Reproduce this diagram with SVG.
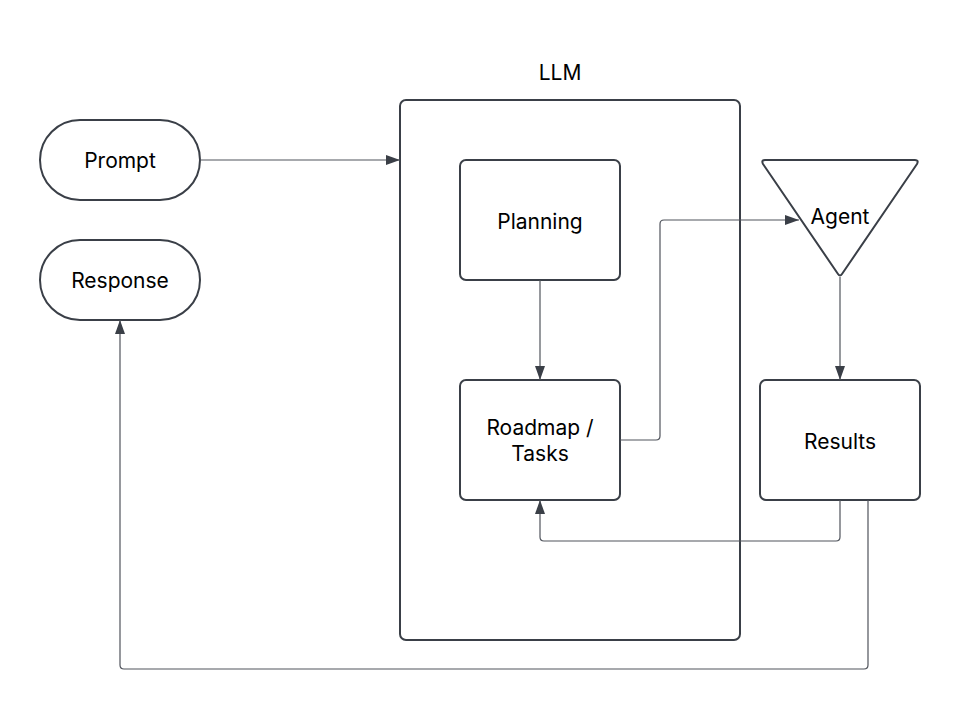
<svg xmlns="http://www.w3.org/2000/svg" width="960" height="710" viewBox="0 0 960 710">
<style>
.shape{fill:#ffffff;stroke:#3a3f47;stroke-width:2}
.conn{fill:none;stroke:#50545c;stroke-width:1.2;stroke-linejoin:round}
.lbl{font-family:Inter,"Noto Sans",sans-serif;font-size:21px;fill:#000000;text-anchor:middle;dominant-baseline:central}
</style>
<defs>
<marker id="arr" viewBox="0 0 14 10" refX="14" refY="5" markerWidth="14" markerHeight="10" markerUnits="userSpaceOnUse" orient="auto">
<path d="M0,0 L14,5 L0,10 Z" fill="#3a3f47"/>
</marker>
</defs>
<rect width="960" height="710" fill="#ffffff"/>
<g id="llm">
<rect class="shape" x="400" y="100" width="340" height="540" rx="6"/>
<text class="lbl" x="560" y="72">LLM</text>
</g>
<g id="prompt">
<rect class="shape" x="40" y="120" width="160" height="80" rx="40"/>
<text class="lbl" x="120" y="160">Prompt</text>
</g>
<g id="response">
<rect class="shape" x="40" y="240" width="160" height="80" rx="40"/>
<text class="lbl" x="120" y="280">Response</text>
</g>
<g id="planning">
<rect class="shape" x="460" y="160" width="160" height="120" rx="6"/>
<text class="lbl" x="540" y="221">Planning</text>
</g>
<g id="roadmap">
<rect class="shape" x="460" y="380" width="160" height="120" rx="6"/>
<text class="lbl" x="540" y="427">Roadmap /</text>
<text class="lbl" x="540" y="453">Tasks</text>
</g>
<g id="agent">
<path class="shape" d="M765,160 L915,160 Q919,160 917,164 L842,274 Q840,277 838,274 L763,164 Q761,160 765,160 Z" stroke-linejoin="round"/>
<text class="lbl" x="840" y="216">Agent</text>
</g>
<g id="results">
<rect class="shape" x="760" y="380" width="160" height="120" rx="6"/>
<text class="lbl" x="840" y="441">Results</text>
</g>
<g id="connectors">
<path class="conn" d="M200,160 L400,160" marker-end="url(#arr)"/>
<path class="conn" d="M540,280 L540,380" marker-end="url(#arr)"/>
<path class="conn" d="M620,440 L656,440 Q660,440 660,436 L660,224 Q660,220 664,220 L799,220" marker-end="url(#arr)"/>
<path class="conn" d="M840,277 L840,380" marker-end="url(#arr)"/>
<path class="conn" d="M840,500 L840,537 Q840,541 836,541 L544,541 Q540,541 540,537 L540,500" marker-end="url(#arr)"/>
<path class="conn" d="M868,500 L868,665 Q868,669 864,669 L124,669 Q120,669 120,665 L120,320" marker-end="url(#arr)"/>
</g>
</svg>
